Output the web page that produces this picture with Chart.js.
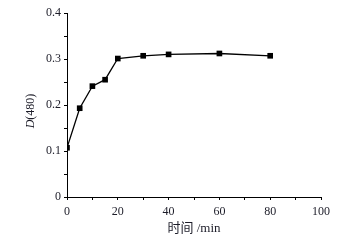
<!DOCTYPE html>
<html>
<head>
<meta charset="utf-8">
<script src="https://cdn.jsdelivr.net/npm/chart.js@4/dist/chart.umd.min.js"></script>
<style>
  html, body { margin: 0; padding: 0; background: #fff; }
  #wrap { width: 346px; height: 245px; }
</style>
</head>
<body>
<div id="wrap"><canvas id="chart"></canvas></div>
<script>
// time (min) and absorbance
var times = [0, 5, 10, 15, 20, 30, 40, 60, 80];
var absorb = [0.107, 0.193, 0.241, 0.255, 0.301, 0.307, 0.310, 0.312, 0.307];

var FONT = "'Liberation Serif', 'Noto Sans CJK SC', serif";
var INK = '#1c1c28';

// y title: italic D followed by (480), rotated
var yTitle = {
    id: 'yTitle',
    afterDraw: function(chart) {
        var ctx = chart.ctx;
        var area = chart.chartArea;
        var cy = (area.top + area.bottom) / 2 + 6;
        ctx.save();
        ctx.translate(31, cy);
        ctx.rotate(-Math.PI / 2);
        ctx.fillStyle = INK;
        ctx.textBaseline = 'middle';
        ctx.font = 'italic 12px ' + FONT;
        var w1 = ctx.measureText('D').width;
        ctx.font = '12px ' + FONT;
        var w2 = ctx.measureText('(480)').width;
        var x0 = -(w1 + w2) / 2;
        ctx.font = 'italic 12px ' + FONT;
        ctx.fillText('D', x0, 0);
        ctx.font = '12px ' + FONT;
        ctx.fillText('(480)', x0 + w1, 0);
        ctx.restore();
    }
};

new Chart(document.getElementById('chart'), {
    type: 'line',
    data: {
        datasets: [{
            data: times.map(function(t, i) { return {x: t, y: absorb[i]}; }),
            borderColor: '#000',
            borderWidth: 1.3,
            pointStyle: 'rect',
            pointRadius: 4,
            pointBackgroundColor: '#000',
            pointBorderColor: '#000',
            pointBorderWidth: 0,
            tension: 0
        }]
    },
    options: {
        responsive: true,
        maintainAspectRatio: false,
        animation: false,
        layout: { padding: { top: 13, right: 25, bottom: 0, left: 0 } },
        plugins: { legend: { display: false }, tooltip: { enabled: false } },
        scales: {
            x: {
                type: 'linear',
                min: 0,
                max: 100,
                afterFit: function(s) { s.height = 48; },
                border: { color: '#000', width: 1 },
                grid: { drawOnChartArea: false, drawTicks: true, tickLength: 3, color: '#000' },
                ticks: {
                    stepSize: 10,
                    padding: 5,
                    color: INK,
                    font: { family: FONT, size: 12 },
                    maxRotation: 0,
                    autoSkip: false,
                    callback: function(v) { return v % 20 === 0 ? String(v) : ''; }
                },
                title: {
                    display: true,
                    text: '时间 /min',
                    color: INK,
                    font: { family: FONT, size: 13 },
                    padding: { top: 0, bottom: 9 }
                }
            },
            y: {
                min: 0,
                max: 0.4,
                afterFit: function(s) { s.width = 67; },
                border: { color: '#000', width: 1 },
                grid: { drawOnChartArea: false, drawTicks: true, tickLength: 3, color: '#000' },
                ticks: {
                    stepSize: 0.05,
                    padding: 3,
                    color: INK,
                    font: { family: FONT, size: 12 },
                    autoSkip: false,
                    callback: function(v) {
                        var k = Math.round(v * 100);
                        if (k % 10 !== 0) return '';
                        return k === 0 ? '0' : (k / 100).toFixed(1);
                    }
                }
            }
        }
    },
    plugins: [yTitle]
});
</script>
</body>
</html>
